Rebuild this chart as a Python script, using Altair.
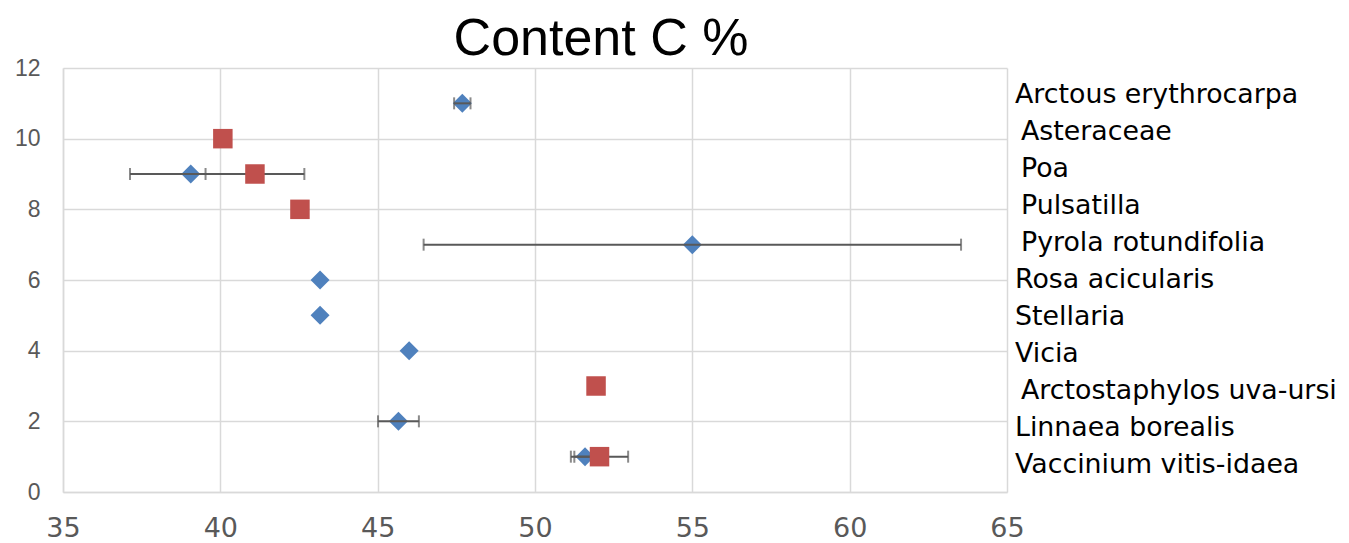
import altair as alt
import pandas as pd

# Species (label order top to bottom) and their y levels
species = ["Arctous erythrocarpa", "Asteraceae", "Poa", "Pulsatilla",
           "Pyrola  rotundifolia", "Rosa acicularis", "Stellaria", "Vicia",
           "Arctostaphylos uva-ursi", "Linnaea borealis", "Vaccinium vitis-idaea"]
label_rank = [0, 1, 2, 3, 4, 5, 6, 7, 8, 9, 10]
label_indent = [False, True, True, True, True, False, False, False, True, False, False]

# Blue series (diamonds)
blue_y = [11, 9, 7, 6, 5, 4, 2, 1]
blue_x = [47.69, 39.06, 55.0, 43.17, 43.17, 46.0, 45.66, 51.59]
blue_err = [0.26, 1.93, 8.54, 0.0, 0.0, 0.0, 0.65, 0.34]

# Red series (squares)
red_y = [10, 9, 8, 3, 1]
red_x = [40.08, 41.1, 42.53, 51.94, 52.05]
red_err = [0.0, 1.57, 0.0, 0.0, 0.91]

x_ticks = [35, 40, 45, 50, 55, 60, 65]
y_ticks = [0, 2, 4, 6, 8, 10, 12]
title_text = "Content C %"

blue = pd.DataFrame({"y": blue_y, "x": blue_x, "err": blue_err, "series": "blue"})
red = pd.DataFrame({"y": red_y, "x": red_x, "err": red_err, "series": "red"})
alld = pd.concat([blue, red], ignore_index=True)
errd = alld[alld["err"] > 0]
labels = pd.DataFrame({"name": species, "rank": label_rank, "indent": label_indent})

xs = alt.Scale(domain=[35, 65], nice=False, zero=False)
ys = alt.Scale(domain=[0, 12], nice=False, zero=False)

X = alt.X("x:Q", scale=xs, axis=alt.Axis(values=x_ticks, title=None, grid=True,
          gridColor="#d9d9d9", gridWidth=1.5, domainColor="#d9d9d9", domainWidth=1.5,
          ticks=False, labelFont="DejaVu Sans", labelFontSize=27, labelColor="#595959",
          labelBaseline="alphabetic", labelPadding=44, labelFlush=False))
Y = alt.Y("y:Q", scale=ys, axis=alt.Axis(values=y_ticks, title=None, grid=True,
          gridColor="#d9d9d9", gridWidth=1.5, domainColor="#d9d9d9", domainWidth=1.5,
          ticks=False, labelFont="Liberation Sans", labelFontSize=23, labelColor="#595959",
          labelPadding=23, labelFlush=False))

base_err = alt.Chart(errd).transform_calculate(
    lo="datum.x - datum.err", hi="datum.x + datum.err")

err_line = base_err.mark_rule(color="#595959", strokeWidth=2).encode(
    x=alt.X("lo:Q", scale=xs), x2="hi:Q", y=alt.Y("y:Q", scale=ys))
cap_lo = base_err.mark_tick(color="#595959", thickness=2, size=12, orient="vertical").encode(
    x=alt.X("lo:Q", scale=xs), y=alt.Y("y:Q", scale=ys))
cap_hi = base_err.mark_tick(color="#595959", thickness=2, size=12, orient="vertical").encode(
    x=alt.X("hi:Q", scale=xs), y=alt.Y("y:Q", scale=ys))

pts_blue = alt.Chart(blue).mark_point(shape="diamond", filled=True, size=360,
                                      color="#4F81BD", opacity=1).encode(x=X, y=Y)
pts_red = alt.Chart(red).mark_point(shape="square", filled=True, size=380,
                                    color="#C0504D", opacity=1).encode(x=alt.X("x:Q", scale=xs),
                                                                        y=alt.Y("y:Q", scale=ys))

title_df = pd.DataFrame({"t": [title_text]})
title_mark = alt.Chart(title_df).mark_text(font="Liberation Sans", fontSize=52, color="black",
                                           align="center", baseline="alphabetic").encode(
    x=alt.value(538), y=alt.value(-13), text="t:N")

main = alt.layer(pts_blue, err_line, cap_lo, cap_hi, pts_red, title_mark)

lab_y = alt.Y("rank:Q", scale=alt.Scale(domain=[-0.73, 10.73], reverse=True, nice=False, zero=False),
              axis=None)
text_plain = alt.Chart(labels).transform_filter("!datum.indent").mark_text(
    align="left", baseline="middle", font="DejaVu Sans", fontSize=26.8, color="black").encode(
    x=alt.value(952), y=lab_y, text="name:N")
text_ind = alt.Chart(labels).transform_filter("datum.indent").mark_text(
    align="left", baseline="middle", font="DejaVu Sans", fontSize=26.8, color="black", dx=6).encode(
    x=alt.value(952), y=lab_y, text="name:N")

chart = alt.layer(main, text_plain, text_ind).resolve_scale(y="independent").properties(
    width=944, height=424,
    autosize=alt.AutoSizeParams(type="none"),
    padding={"left": 55, "top": 60, "right": 334, "bottom": 52},
).configure_view(stroke=None)

chart.save("out.html", embed_options={"renderer": "svg", "actions": False})
